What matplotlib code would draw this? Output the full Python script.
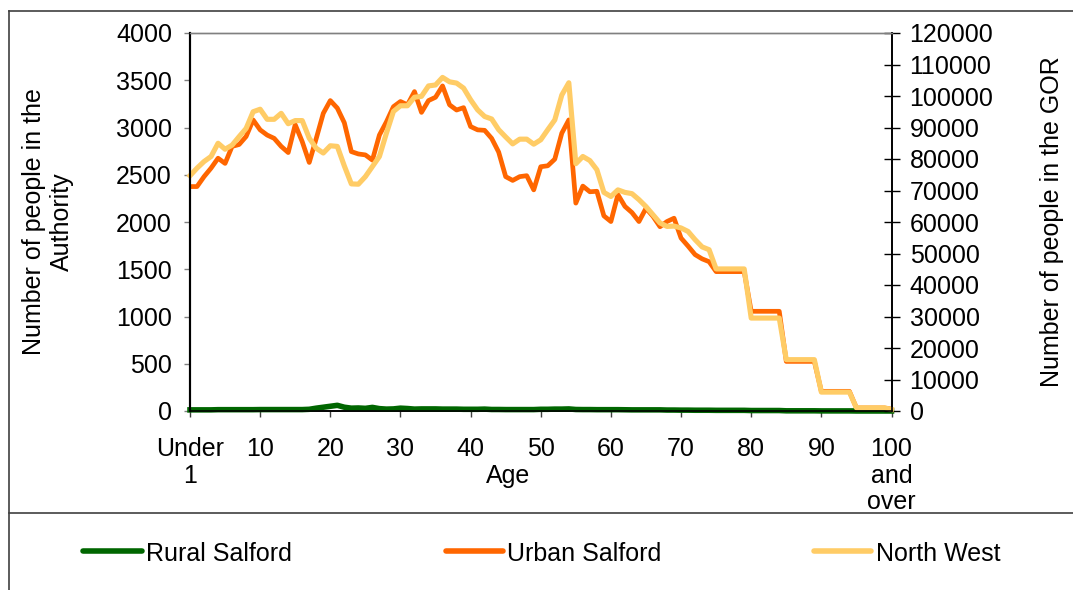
import matplotlib
matplotlib.use('Agg')
import matplotlib.pyplot as plt
from matplotlib.lines import Line2D

plt.rcParams['font.family'] = ['Liberation Sans', 'DejaVu Sans']

ages = list(range(0, 101))
tick_pos = list(range(0, 101, 10))
tick_labels = ['Under\n1', '10', '20', '30', '40', '50', '60', '70', '80', '90', '100\nand\nover']

urban = [2375, 2375, 2480, 2570, 2675, 2620, 2800, 2820, 2905, 3080,
         2975, 2920, 2885, 2800, 2735, 3030, 2850, 2630, 2885, 3150,
         3285, 3205, 3050, 2745, 2720, 2710, 2655, 2920, 3060, 3220,
         3275, 3240, 3380, 3160, 3285, 3320, 3440, 3240, 3185, 3210,
         3010, 2975, 2970, 2885, 2740, 2480, 2440, 2480, 2490, 2340,
         2585, 2595, 2665, 2940, 3080, 2200, 2380, 2320, 2325, 2065,
         2005, 2290, 2165, 2100, 2005, 2145, 2060, 1950, 2005, 2040,
         1830, 1745, 1655, 1610, 1580, 1475, 1475, 1475, 1475, 1475,
         1055, 1055, 1055, 1055, 1055, 525, 525, 525, 525, 525,
         208, 208, 208, 208, 208, 32, 32, 32, 32, 32, 20]

north_west = [74700, 77100, 79200, 80800, 85000, 83100, 84400, 87100, 89700, 95000,
              95800, 92600, 92600, 94500, 91200, 92200, 92200, 86600, 83400, 81900,
              84200, 84000, 77800, 72100, 72000, 74400, 77600, 80800, 88200, 95100,
              96900, 96900, 99600, 99900, 103200, 103500, 105900, 104500, 104100, 102500,
              98800, 95600, 93500, 92700, 89300, 87000, 84800, 86300, 86300, 84700,
              86100, 89300, 92400, 100300, 104200, 78500, 80800, 79500, 76600, 69400,
              68100, 70200, 69400, 69000, 67100, 64900, 62300, 59700, 58600, 58700,
              58100, 57000, 54400, 52100, 51200, 45100, 45100, 45100, 45100, 45100,
              29500, 29500, 29500, 29500, 29500, 16300, 16300, 16300, 16300, 16300,
              6000, 6000, 6000, 6000, 6000, 1000, 1000, 1000, 1000, 1000, 500]

rural = [12, 12, 12, 12, 14, 14, 14, 14, 14, 14,
         15, 15, 15, 15, 15, 15, 15, 18, 30, 40,
         50, 60, 40, 30, 32, 28, 38, 25, 20, 22,
         30, 26, 20, 22, 22, 22, 20, 20, 20, 18,
         18, 18, 20, 16, 16, 15, 15, 15, 15, 15,
         18, 18, 20, 20, 22, 16, 15, 15, 14, 14,
         14, 14, 13, 12, 12, 12, 12, 12, 10, 10,
         9, 9, 8, 8, 8, 7, 7, 7, 7, 7,
         5, 5, 5, 5, 5, 2, 2, 2, 2, 2,
         1, 1, 1, 1, 1, 0, 0, 0, 0, 0, 0]

GREEN = '#006600'
ORANGE = '#FF6600'
YELLOW = '#FFCC66'
FS = 18

W, H = 1073, 590
fig = plt.figure(figsize=(W / 100, H / 100), dpi=100)
ax = fig.add_axes([190 / W, 1 - 411 / H, (891.5 - 190) / W, (411 - 33) / H])
ax2 = ax.twinx()

ax.plot(ages, urban, color=ORANGE, lw=3.4, solid_joinstyle='round', zorder=2)
ax.plot(ages, rural, color=GREEN, lw=4, clip_on=False, zorder=3)
ax2.plot(ages, north_west, color=YELLOW, lw=3.7, solid_joinstyle='round', clip_on=False)

ax.set_xlim(0, 100)
ax.set_ylim(0, 4000)
ax2.set_ylim(0, 120000)
ax.set_yticks(range(0, 4001, 500))
ax2.set_yticks(range(0, 120001, 10000))
ax.set_xticks(tick_pos)
ax.set_xticklabels(tick_labels, linespacing=1.15)

ax.tick_params(axis='y', labelsize=FS, direction='out', length=4.5, width=1, color='#808080', pad=8.5)
ax.tick_params(axis='x', labelsize=FS, direction='out', length=4.5, width=1, color='#404040', pad=14)
ax2.tick_params(axis='y', labelsize=FS, direction='inout', length=12, width=1, color='black', pad=7)

for a in (ax, ax2):
    a.spines['top'].set_color('#808080')
    a.spines['top'].set_linewidth(1)
    a.spines['left'].set_linewidth(1.5)
    a.spines['right'].set_linewidth(1.2)
    a.spines['bottom'].set_linewidth(1.2)
ax2.patch.set_visible(False)

fig.text(48 / W, 1 - 222 / H, 'Number of people in the\nAuthority', rotation=90,
         ha='center', va='center', multialignment='center', fontsize=FS, linespacing=1.2)
fig.text(1052 / W, 1 - 222 / H, 'Number of people in the GOR', rotation=90,
         ha='center', va='center', fontsize=FS)
fig.text(508 / W, 1 - 483 / H, 'Age', ha='center', va='baseline', fontsize=FS)

# outer border and legend box line
for xs, ys in [([9, 9], [11, H]), ([9, W], [11, 11]), ([9, W], [513, 513])]:
    fig.add_artist(Line2D([x / W for x in xs], [1 - y / H for y in ys],
                          color='#404040', lw=1.2))

# legend
legend_items = [(GREEN, 'Rural Salford', 83, 142, 146),
                (ORANGE, 'Urban Salford', 446, 503, 507),
                (YELLOW, 'North West', 814, 871, 876)]
for col, lab, x0, x1, xt in legend_items:
    fig.add_artist(Line2D([x0 / W, x1 / W], [1 - 551 / H, 1 - 551 / H], color=col, lw=4,
                          solid_capstyle='round'))
    fig.text(xt / W, 1 - 561 / H, lab, ha='left', va='baseline', fontsize=FS)

fig.savefig('out.png', dpi=100)
